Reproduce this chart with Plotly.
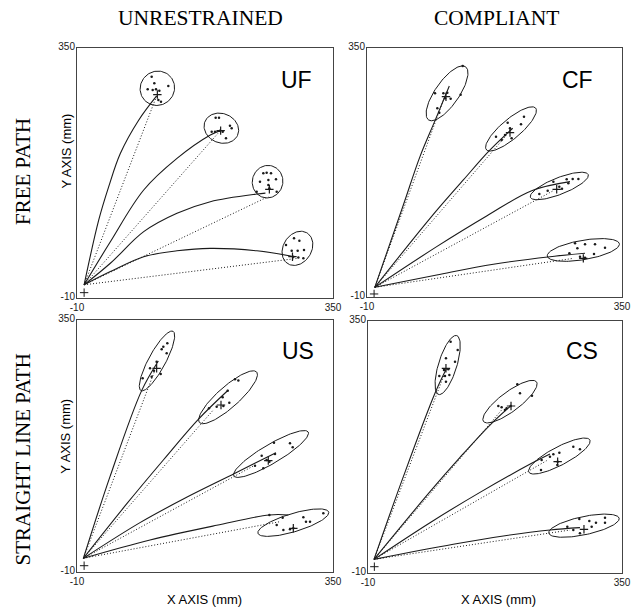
import math
import plotly.graph_objects as go

# ---------------- data (mm) ----------------
PANELS = ["UF", "CF", "US", "CS"]
COLUMN_TITLES = ["UNRESTRAINED", "COMPLIANT"]
ROW_TITLES = ["FREE PATH", "STRAIGHT LINE PATH"]
AXIS_TICKS = [-10, 350]

START_X = {"UF": 0, "CF": 1, "US": -1, "CS": -1.5}
START_Y = {"UF": 9, "CF": 4, "US": 9.6, "CS": 9.5}
ORIGIN_X = {"UF": 0, "CF": 0, "US": 0, "CS": -1}
ORIGIN_Y = {"UF": -2.3, "CF": -5.6, "US": -1, "CS": -1}

# mean hand paths (way-points after the start point)
UF_PATH_X = [[20.5, 34.5, 50.9, 76.7, 102], [36.9, 83.8, 130.6, 177.5, 191.6],
             [36.9, 83.8, 130.6, 177.5, 243, 255], [36.9, 83.8, 130.6, 177.5, 243, 292]]
UF_PATH_Y = [[102, 150, 198, 246, 281], [71, 145.5, 191, 224.7, 231],
             [40, 85.5, 112, 128.7, 139.7, 141], [28, 49.5, 58, 61.5, 58, 50]]
CF_PATH_X = [[41.3, 64.8, 86, 106.2], [79, 126, 162.7, 195.7],
             [88.4, 158.9, 222.5, 276.6], [88.4, 168.4, 248.4, 297.8]]
CF_PATH_Y = [[123, 193, 245, 295], [103.7, 159.2, 201.6, 234],
             [62.8, 107.1, 143.7, 156.8], [21.8, 37.3, 48.3, 53.2]]
US_PATH_X = [[36.4, 80.9, 104.4], [59.8, 111.4, 160.6, 202.8],
             [78.6, 144.2, 212.2, 269.8], [92.7, 186.4, 260.5, 287.2]]
US_PATH_Y = [[126.2, 249.1, 291.5], [87.2, 150, 208.1, 250],
             [60.5, 96.7, 131, 160.5], [35.7, 56.7, 71.5, 71.5]]
CS_PATH_X = [[40.1, 84.9, 101.5], [77.9, 120.4, 162.9, 192.2],
             [77.9, 148.7, 221.9, 247.9], [110.9, 181.8, 247.9, 290.4]]
CS_PATH_Y = [[127.6, 246.7, 282.4], [106.2, 155.2, 201.4, 228.6],
             [61.9, 105.2, 146.7, 160], [31, 42.9, 51.4, 54.8]]

# end points of the straight (dotted) reference lines
UF_LINE_END_X = [102, 191.6, 259, 299]
UF_LINE_END_Y = [281, 231, 136, 47]
CF_LINE_END_X = [98.7, 187.2, 253, 281.3]
CF_LINE_END_Y = [277.2, 224.2, 143.7, 45.9]
US_LINE_END_X = [98.8, 181.7, 238, 275.5]
US_LINE_END_Y = [276.2, 221.5, 141.5, 61.9]
CS_LINE_END_X = [97.7, 179.4, 243.2, 276.3]
CS_LINE_END_Y = [272.9, 222.9, 150.5, 51.4]

# confidence ellipses: centre, semi-axes, orientation (deg)
UF_ELL_CX = [103, 193, 258, 300]
UF_ELL_CY = [292, 234.5, 157.5, 61.5]
UF_ELL_A = [25, 25, 23.5, 26]
UF_ELL_B = [24, 21, 21.5, 20]
UF_ELL_ANG = [60, -25, 80, 60]
CF_ELL_CX = [103, 193.3, 261.5, 295.4]
CF_ELL_CY = [284.5, 233, 150.5, 58]
CF_ELL_A = [46.5, 46, 44, 51.7]
CF_ELL_B = [17, 14, 12, 14]
CF_ELL_ANG = [56, 41, 22, 10]
US_ELL_CX = [102.5, 202.4, 262.8, 294.2]
US_ELL_CY = [291.5, 239.6, 158.6, 60.5]
US_ELL_A = [48, 54, 61, 52]
US_ELL_B = [12, 15, 13.5, 13]
US_ELL_ANG = [62, 42, 31, 17]
CS_ELL_CX = [102.9, 191.2, 261.2, 296.1]
CS_ELL_CY = [287.1, 234.8, 157.1, 57.6]
CS_ELL_A = [44, 47, 49, 51]
CS_ELL_B = [13, 14, 13, 13]
CS_ELL_ANG = [73, 37, 28, 12]

# individual end points
UF_DOTS_X = [[95, 98.7, 118.4, 89.4, 96.4, 101.1, 105.8, 104.4, 108.1],
             [185, 189.7, 205.1, 207.5, 179.4, 184.1, 191.1, 194.9, 199.5],
             [252, 256.7, 262.8, 247.3, 259.1, 269.8, 259.1, 260.5, 242.7, 270.8],
             [295.2, 302.7, 283.9, 291.9, 300.3, 309.2, 294.2, 301.3, 308.3]]
UF_DOTS_Y = [[308.7, 299.1, 295.3, 290.5, 289.5, 290.5, 288.5, 275.1, 272.7],
             [249.6, 249.6, 238.1, 234.4, 229.5, 229.5, 230.9, 229.5, 220],
             [169.5, 170.5, 169.5, 157.5, 159.9, 160.9, 152.7, 147.9, 143.1, 143.1],
             [75.9, 72.5, 66.3, 58.1, 58.1, 59.1, 49.5, 48.5, 47.1]]
CF_DOTS_X = [[125.1, 86, 97.8, 103.4, 108.1, 122.2, 89.3, 92.1, 100.1],
             [211.6, 207.4, 188.6, 191.9, 172.1, 184.8, 194.2, 180.1],
             [271.9, 280.4, 288.4, 253.1, 261.5, 245.1, 233.3, 274.2, 265.3],
             [283.7, 297.8, 311.9, 326, 287, 275.7, 290.7, 310.5, 297.8]]
CF_DOTS_Y = [[324, 284.5, 284.5, 285.4, 276.7, 282.5, 262.8, 256.5, 277.2],
             [250.7, 239.7, 242.1, 233.9, 221.8, 224.2, 219.4, 217],
             [160.1, 160.6, 160.6, 156.8, 149.5, 143.7, 139, 154.4, 146.6],
             [67.6, 66.2, 66.2, 61.3, 60.4, 53.2, 48.3, 52.2, 46.9]]
US_DOTS_X = [[117, 111.4, 116.1, 109.1, 102, 92.7, 98.3, 107.7, 82.3, 95],
             [212.2, 216.9, 201.9, 194.8, 186.4, 175.6, 204.2, 195.8],
             [267, 289.5, 293.3, 249.7, 256.7, 260.5, 240.3, 252, 268.4],
             [260.5, 279.2, 308.3, 312, 317.7, 336.4, 270.8, 280.2, 289.5, 294.2]]
US_DOTS_Y = [[316.7, 311.9, 302.4, 308.1, 290.5, 281, 277.6, 272.9, 266.7, 269.1],
             [265.3, 263.4, 249.1, 239.5, 226.2, 223.8, 231.9, 227.2],
             [174.8, 173.8, 168.1, 156.2, 150, 147.6, 141.9, 138.1, 158.6],
             [71.5, 67.6, 68.1, 61.9, 61.9, 73.8, 57.2, 50, 51, 52.4]]
CS_DOTS_X = [[107.1, 117.1, 100.5, 113.3, 97.7, 103.8, 91.1, 99.1, 105.3, 100.5],
             [201.6, 205.4, 222.4, 174.7, 179.4, 186.5, 192.2, 184.1],
             [281, 290.4, 261.2, 252.7, 258.8, 258.3, 236.1, 235.2, 247.9],
             [289.5, 303.7, 313.1, 325.9, 325.9, 272.5, 290.4, 307, 281]]
CS_DOTS_Y = [[320.5, 308.6, 296.7, 291.9, 280, 281, 271.4, 271.4, 272.9, 263.3],
             [259.5, 246.7, 243.3, 228.6, 226.7, 225.2, 228.6, 222.9],
             [170.5, 166.7, 161.9, 159.5, 149, 144.3, 151.4, 137.1, 156.2],
             [67.1, 64.3, 61.9, 69, 61.9, 56.2, 46.7, 56.2, 51.4]]

# mean end points ("+")
UF_MEAN_X = [103, 192, 260.5, 293]
UF_MEAN_Y = [283, 231, 146.5, 49.5]
CF_MEAN_X = [101.5, 191.9, 257.8, 295.4]
CF_MEAN_Y = [279.6, 227.6, 145.7, 45.9]
US_MEAN_X = [102, 192.5, 259, 294.2]
US_MEAN_Y = [281, 228.6, 149.1, 52.4]
CS_MEAN_X = [100.5, 192.7, 258.8, 296.1]
CS_MEAN_Y = [282.4, 228.6, 149, 52.4]

DATA = {
    "UF": (UF_PATH_X, UF_PATH_Y, UF_LINE_END_X, UF_LINE_END_Y, UF_ELL_CX, UF_ELL_CY, UF_ELL_A,
           UF_ELL_B, UF_ELL_ANG, UF_DOTS_X, UF_DOTS_Y, UF_MEAN_X, UF_MEAN_Y),
    "CF": (CF_PATH_X, CF_PATH_Y, CF_LINE_END_X, CF_LINE_END_Y, CF_ELL_CX, CF_ELL_CY, CF_ELL_A,
           CF_ELL_B, CF_ELL_ANG, CF_DOTS_X, CF_DOTS_Y, CF_MEAN_X, CF_MEAN_Y),
    "US": (US_PATH_X, US_PATH_Y, US_LINE_END_X, US_LINE_END_Y, US_ELL_CX, US_ELL_CY, US_ELL_A,
           US_ELL_B, US_ELL_ANG, US_DOTS_X, US_DOTS_Y, US_MEAN_X, US_MEAN_Y),
    "CS": (CS_PATH_X, CS_PATH_Y, CS_LINE_END_X, CS_LINE_END_Y, CS_ELL_CX, CS_ELL_CY, CS_ELL_A,
           CS_ELL_B, CS_ELL_ANG, CS_DOTS_X, CS_DOTS_Y, CS_MEAN_X, CS_MEAN_Y),
}

# ---------------- figure ----------------
W, H = 637, 611
SANS = "Liberation Sans, Arial, sans-serif"
SERIF = "Liberation Serif, Times New Roman, serif"
INK = "#1a1a1a"

# panel boxes in pixels: left, right, top, bottom
BOXES = {"UF": (77, 333, 48, 298), "CF": (367, 622, 48, 297),
         "US": (77, 333, 320, 572), "CS": (368, 622, 321, 573)}


def ellipse(cx, cy, a, b, ang, n=120):
    t = math.radians(ang)
    xs, ys = [], []
    for k in range(n + 1):
        th = 2 * math.pi * k / n
        xs.append(cx + a * math.cos(th) * math.cos(t) - b * math.sin(th) * math.sin(t))
        ys.append(cy + a * math.cos(th) * math.sin(t) + b * math.sin(th) * math.cos(t))
    return xs, ys


fig = go.Figure()
layout_axes = {}
for i, p in enumerate(PANELS):
    n = "" if i == 0 else str(i + 1)
    xa, ya = "x" + n, "y" + n
    l, r, t, b = BOXES[p]
    common = dict(range=[-10, 350], tickvals=AXIS_TICKS, ticktext=[str(v) for v in AXIS_TICKS],
                  ticks="", showgrid=False, zeroline=False, showline=True, mirror=True,
                  linecolor="#444", linewidth=1, automargin=False,
                  tickfont=dict(family=SANS, size=10, color=INK))
    layout_axes["xaxis" + n] = dict(domain=[l / W, r / W], anchor=ya, **common)
    layout_axes["yaxis" + n] = dict(domain=[1 - b / H, 1 - t / H], anchor=xa, ticklabelshift=-2,
                                    ticklabelstandoff=-1, **common)

    (px, py, lex, ley, ecx, ecy, ea, eb, eang, dx, dy, mx, my) = DATA[p]
    sx, sy = START_X[p], START_Y[p]
    for k in range(4):
        # dotted straight line
        fig.add_trace(go.Scatter(x=[sx, lex[k]], y=[sy, ley[k]], mode="lines", xaxis=xa, yaxis=ya,
                                 line=dict(color=INK, width=1, dash="1px,2px"), hoverinfo="skip"))
        # solid mean path
        fig.add_trace(go.Scatter(x=[sx] + px[k], y=[sy] + py[k], mode="lines", xaxis=xa, yaxis=ya,
                                 line=dict(color=INK, width=1.1, shape="spline", smoothing=1),
                                 hoverinfo="skip"))
        # ellipse
        ex, ey = ellipse(ecx[k], ecy[k], ea[k], eb[k], eang[k])
        fig.add_trace(go.Scatter(x=ex, y=ey, mode="lines", xaxis=xa, yaxis=ya,
                                 line=dict(color=INK, width=1), hoverinfo="skip"))
        # end point dots
        fig.add_trace(go.Scatter(x=dx[k], y=dy[k], mode="markers", xaxis=xa, yaxis=ya,
                                 marker=dict(color=INK, size=2.5), hoverinfo="skip"))
    # mean "+"
    fig.add_trace(go.Scatter(x=mx, y=my, mode="markers", xaxis=xa, yaxis=ya,
                             marker=dict(symbol="cross-thin", size=6, line=dict(color=INK, width=1.2)),
                             hoverinfo="skip"))
    # origin "+"
    fig.add_trace(go.Scatter(x=[ORIGIN_X[p]], y=[ORIGIN_Y[p]], mode="markers", xaxis=xa, yaxis=ya,
                             marker=dict(symbol="cross-thin", size=6, line=dict(color=INK, width=1)),
                             hoverinfo="skip"))

annotations = []
LABEL_POS = {"UF": (0.857, 0.872), "CF": (0.825, 0.873), "US": (0.865, 0.877), "CS": (0.844, 0.881)}
for i, p in enumerate(PANELS):
    n = "" if i == 0 else str(i + 1)
    lx, ly = LABEL_POS[p]
    annotations.append(dict(text=p, xref="x" + n + " domain", yref="y" + n + " domain", x=lx, y=ly,
                            showarrow=False, xanchor="center", yanchor="middle",
                            font=dict(family=SANS, size=23, color="black")))

for txt, cx in zip(COLUMN_TITLES, [200, 496]):
    annotations.append(dict(text=txt, xref="paper", yref="paper", x=cx / W, y=1 - 17.5 / H,
                            showarrow=False, xanchor="center", yanchor="middle",
                            font=dict(family=SERIF, size=21.5, color="black")))
for txt, cy in zip(ROW_TITLES, [171.5, 460]):
    annotations.append(dict(text=txt, xref="paper", yref="paper", x=22.5 / W, y=1 - cy / H,
                            showarrow=False, xanchor="center", yanchor="middle", textangle=-90,
                            font=dict(family=SERIF, size=21, color="black")))
for cy in [151.5, 436.7]:
    annotations.append(dict(text="Y AXIS (mm)", xref="paper", yref="paper", x=66 / W, y=1 - cy / H,
                            showarrow=False, xanchor="center", yanchor="middle", textangle=-90,
                            font=dict(family=SANS, size=13, color="black")))
for cx in [204, 498]:
    annotations.append(dict(text="X AXIS (mm)", xref="paper", yref="paper", x=cx / W, y=1 - 599 / H,
                            showarrow=False, xanchor="center", yanchor="middle",
                            font=dict(family=SANS, size=13, color="black")))

fig.update_layout(width=W, height=H, margin=dict(l=0, r=0, t=0, b=0), showlegend=False,
                  paper_bgcolor="white", plot_bgcolor="white", annotations=annotations,
                  template="none", **layout_axes)
fig.write_html("out.html")
